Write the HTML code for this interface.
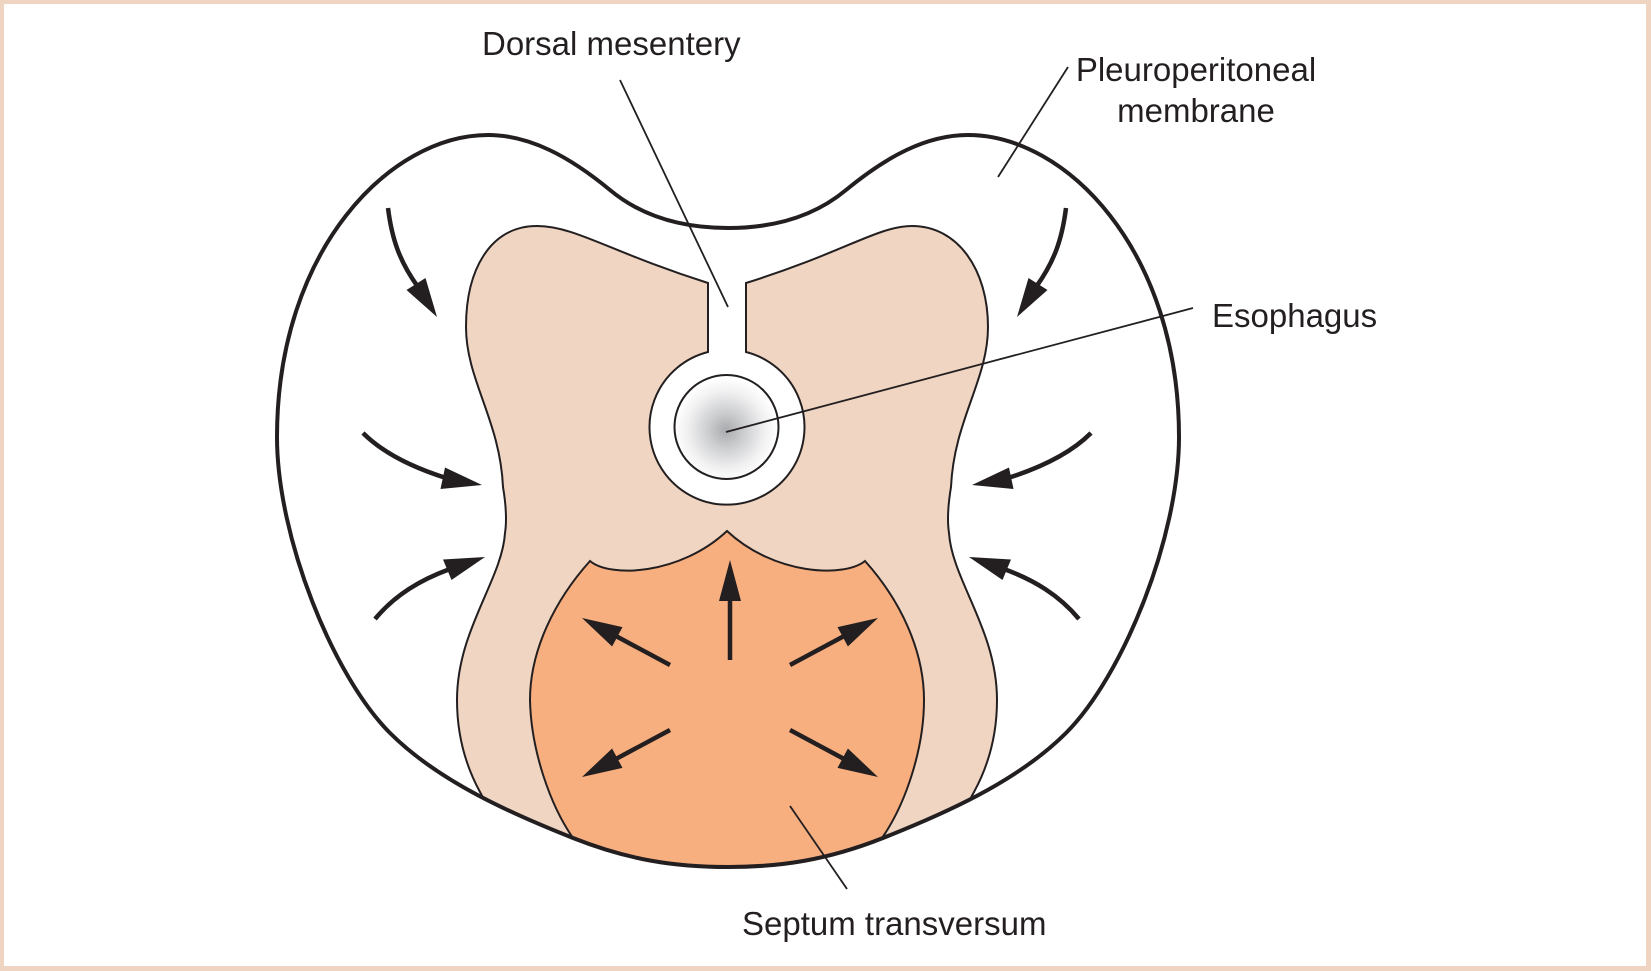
<!DOCTYPE html>
<html>
<head>
<meta charset="utf-8">
<style>
  html, body { margin: 0; padding: 0; background: #ffffff; }
  svg { display: block; }
  text { font-family: "Liberation Sans", Arial, sans-serif; font-size: 33px; fill: #231f20; }
</style>
</head>
<body>
<svg width="1651" height="971" viewBox="0 0 1651 971" xmlns="http://www.w3.org/2000/svg">
  <defs>
    <radialGradient id="esoG" gradientUnits="userSpaceOnUse" cx="726" cy="430" r="52">
      <stop offset="0" stop-color="#a8aaad"/>
      <stop offset="0.35" stop-color="#cdced0"/>
      <stop offset="0.75" stop-color="#f1f1f2"/>
      <stop offset="1" stop-color="#ffffff"/>
    </radialGradient>
    <clipPath id="outerClip">
      <path d="M 728 228 C 680 228, 640 215, 610 190 C 570 157, 530 135, 488 135 C 390 135, 277 250, 277 437 C 277 537, 333 676, 390 733 C 440 783, 516.7 815.7, 573 838 C 629.3 860.3, 676 867, 728 867 C 780 867, 826.7 860.3, 883 838 C 939.3 815.7, 1016 783, 1066 733 C 1123 676, 1179 537, 1179 437 C 1179 250, 1066 135, 968 135 C 926 135, 886 157, 846 190 C 816 215, 776 228, 728 228 Z"/>
    </clipPath>
  </defs>

  <!-- frame -->
  <rect x="0" y="0" width="1651" height="971" fill="#efd5c1"/>
  <rect x="4" y="4" width="1642" height="962" fill="#ffffff"/>

  <!-- beige region (with slit + ring hole) -->
  <g clip-path="url(#outerClip)">
    <path d="M 708 352 L 708 283 C 610 252, 575 226, 537 226 C 490 226, 466 270, 466 327 C 466 380, 500 420, 503 487 C 506 505, 507 520, 505 533 C 502 580, 457 630, 457 700 C 457 740, 468 770, 480 792 L 494 818 L 500 905 L 954 905 L 960 818 L 974 792 C 986 770, 997 740, 997 700 C 997 630, 952 580, 949 533 C 947 520, 948 505, 951 487 C 954 420, 988 380, 988 327 C 988 270, 958 226, 912 226 C 878 226, 845 252, 746 283 L 746 352 A 77.5 77.5 0 1 1 708 352 Z"
      fill="#efd5c2" stroke="#231f20" stroke-width="2" stroke-linejoin="miter"/>
    <!-- orange septum transversum -->
    <path d="M 590 561 C 610 578, 680 575, 727 531 C 774 575, 844 578, 865 561 C 900 600, 924 650, 924 700 C 924 750, 905 805, 882 838 L 864 864 L 860 905 L 596 905 L 592 864 L 573 838 C 550 805, 531 750, 530 700 C 530 650, 555 600, 590 561 Z"
      fill="#f8af80" stroke="#231f20" stroke-width="2" stroke-linejoin="miter"/>
  </g>

  <!-- esophagus inner circle -->
  <circle cx="726.5" cy="427" r="52" fill="url(#esoG)" stroke="#231f20" stroke-width="2"/>

  <!-- outer outline -->
  <path d="M 728 228 C 680 228, 640 215, 610 190 C 570 157, 530 135, 488 135 C 390 135, 277 250, 277 437 C 277 537, 333 676, 390 733 C 440 783, 516.7 815.7, 573 838 C 629.3 860.3, 676 867, 728 867 C 780 867, 826.7 860.3, 883 838 C 939.3 815.7, 1016 783, 1066 733 C 1123 676, 1179 537, 1179 437 C 1179 250, 1066 135, 968 135 C 926 135, 886 157, 846 190 C 816 215, 776 228, 728 228 Z"
    fill="none" stroke="#231f20" stroke-width="4"/>

  <!-- curved arrows, left side -->
  <g fill="#231f20" stroke="#231f20">
    <path d="M 388 208 C 392 240, 400 262, 418 287" fill="none" stroke-width="4.5"/>
    <polygon points="437,317 406.5,290 425.5,278" stroke="none"/>

    <path d="M 363 433 C 380 450, 405 465, 446 478" fill="none" stroke-width="4.5"/>
    <polygon points="482,485 445,467.5 440.5,489" stroke="none"/>

    <path d="M 375 619 C 395 595, 420 580, 450 569" fill="none" stroke-width="4.5"/>
    <polygon points="485,557 443,559.5 451.5,580" stroke="none"/>
  </g>
  <!-- mirrored right side -->
  <g transform="translate(1454,0) scale(-1,1)" fill="#231f20" stroke="#231f20">
    <path d="M 388 208 C 392 240, 400 262, 418 287" fill="none" stroke-width="4.5"/>
    <polygon points="437,317 406.5,290 425.5,278" stroke="none"/>

    <path d="M 363 433 C 380 450, 405 465, 446 478" fill="none" stroke-width="4.5"/>
    <polygon points="482,485 445,467.5 440.5,489" stroke="none"/>

    <path d="M 375 619 C 395 595, 420 580, 450 569" fill="none" stroke-width="4.5"/>
    <polygon points="485,557 443,559.5 451.5,580" stroke="none"/>
  </g>

  <!-- straight arrows in septum -->
  <g fill="#231f20" stroke="#231f20">
    <line x1="730" y1="660" x2="730" y2="596" stroke-width="4.5"/>
    <polygon points="730,560 719,601 741,601" stroke="none"/>

    <line x1="670" y1="665" x2="614" y2="635" stroke-width="4.5"/>
    <polygon points="582,618 622.5,627.1 612.1,646.5" stroke="none"/>

    <line x1="670" y1="730" x2="614" y2="760" stroke-width="4.5"/>
    <polygon points="582,777 622.5,767.9 612.1,748.5" stroke="none"/>
  </g>
  <g transform="translate(1460,0) scale(-1,1)" fill="#231f20" stroke="#231f20">
    <line x1="670" y1="665" x2="614" y2="635" stroke-width="4.5"/>
    <polygon points="582,618 622.5,627.1 612.1,646.5" stroke="none"/>

    <line x1="670" y1="730" x2="614" y2="760" stroke-width="4.5"/>
    <polygon points="582,777 622.5,767.9 612.1,748.5" stroke="none"/>
  </g>

  <!-- leader lines -->
  <g stroke="#231f20" stroke-width="1.8" fill="none">
    <line x1="620" y1="80" x2="728" y2="307"/>
    <line x1="1068" y1="67" x2="998" y2="177"/>
    <line x1="726" y1="432" x2="1193" y2="308"/>
    <line x1="790" y1="806" x2="847" y2="889"/>
  </g>

  <!-- labels -->
  <text x="482" y="55">Dorsal mesentery</text>
  <text x="1196" y="81" text-anchor="middle">Pleuroperitoneal</text>
  <text x="1196" y="122" text-anchor="middle">membrane</text>
  <text x="1212" y="327">Esophagus</text>
  <text x="742" y="935">Septum transversum</text>
</svg>
</body>
</html>
